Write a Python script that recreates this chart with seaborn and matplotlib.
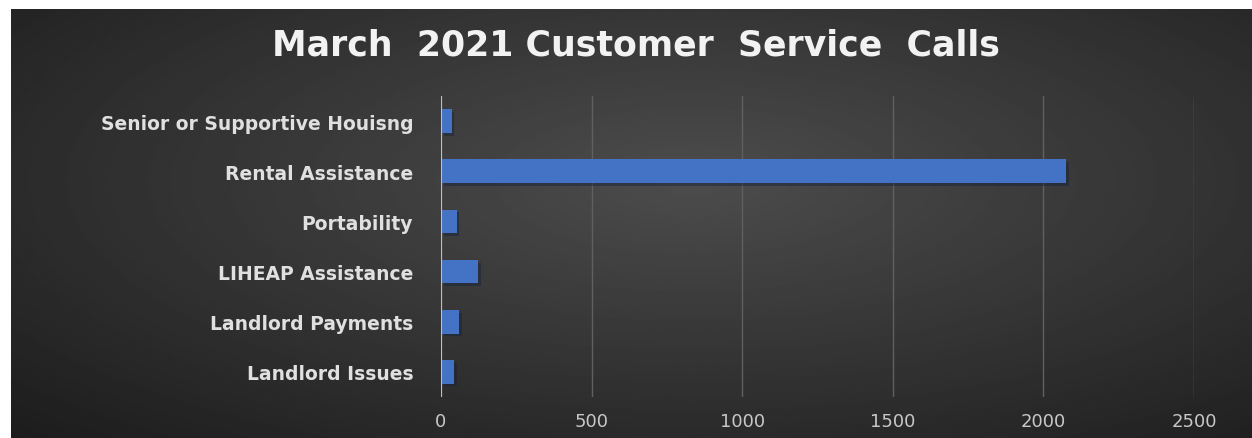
import numpy as np
import pandas as pd
import matplotlib
matplotlib.use("Agg")
import matplotlib.pyplot as plt
import matplotlib.patheffects as pe
import seaborn as sns

# --- datos ---
categorias = ["Senior or Supportive Houisng", "Rental Assistance", "Portability",
              "LIHEAP Assistance", "Landlord Payments", "Landlord Issues"]
llamadas = [35, 2075, 52, 122, 61, 44]
ticks_x = [0, 500, 1000, 1500, 2000, 2500]
titulo = "March  2021 Customer  Service  Calls"

df = pd.DataFrame({"categoria": categorias, "llamadas": llamadas})

sns.set_style("dark")
plt.rcParams['font.family'] = ['DejaVu Sans']

fig = plt.figure(figsize=(12.52, 4.39), dpi=100)
fig.patch.set_facecolor("white")

# fondo oscuro con degradado radial (solo decoración)
ax_bg = fig.add_axes([11 / 1252, 0, 1 - 11 / 1252, 1 - 10 / 439])
yy, xx = np.mgrid[-1:1:200j, -1:1:400j]
r = np.sqrt(((xx - 0.1) * 0.85) ** 2 + ((yy + 0.2) * 0.8) ** 2)
ax_bg.imshow(0.30 - 0.14 * np.clip(r, 0, 1.4), cmap="gray", vmin=0, vmax=1,
             aspect="auto", extent=[0, 1, 0, 1])
ax_bg.set_axis_off()

ax = fig.add_axes([441 / 1252, 1 - 398 / 439, (1194 - 441) / 1252, (398 - 97) / 439])
ax.set_facecolor("none")

sns.barplot(data=df, y="categoria", x="llamadas", order=categorias,
            color="#4472c4", saturation=1, width=0.47, linewidth=0, ax=ax)
for barra in ax.patches:
    barra.set_path_effects([pe.SimplePatchShadow(offset=(2, -2), alpha=0.45), pe.Normal()])

ax.set_xlim(0, 2500)
ax.set_xticks(ticks_x)
ax.grid(axis="x", color="#606060", linewidth=1)
ax.grid(axis="y", visible=False)
ax.axvline(0, color="#bfbfbf", linewidth=1.5, zorder=3)
for s in ax.spines.values():
    s.set_visible(False)

ax.set_xlabel("")
ax.set_ylabel("")
ax.tick_params(axis="y", length=0, pad=20, labelsize=13.5, labelcolor="#e0e0e0")
ax.tick_params(axis="x", length=0, pad=11, labelsize=13, labelcolor="#c8c8c8")
for lbl in ax.get_yticklabels():
    lbl.set_fontweight("bold")

fig.text(0.508, 1 - 45 / 439, titulo, ha="center", va="center",
         fontsize=25, fontweight="bold", color="#f2f2f2")

plt.savefig("out.png", dpi=100)
plt.close()
